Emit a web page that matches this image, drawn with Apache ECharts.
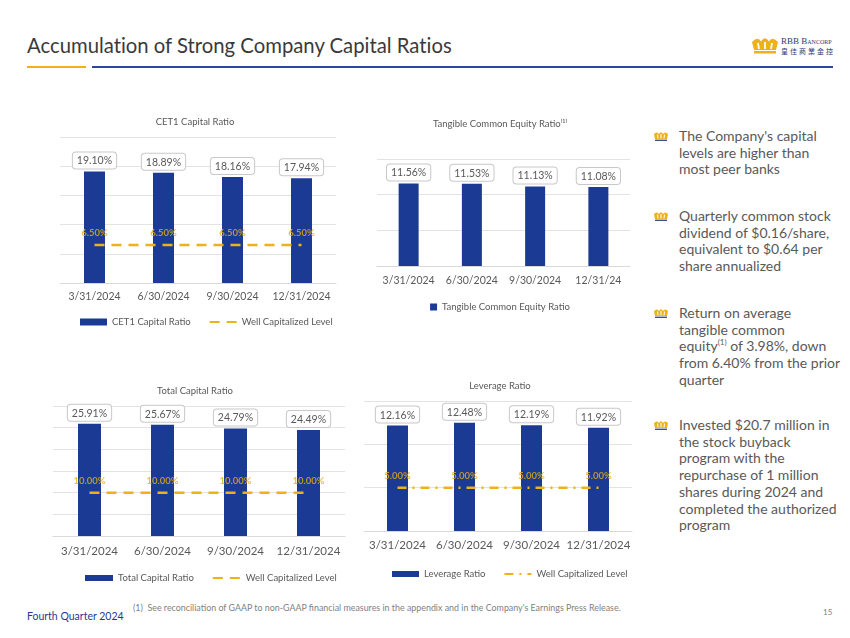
<!DOCTYPE html>
<html>
<head>
<meta charset="utf-8">
<script src="https://cdn.jsdelivr.net/npm/echarts@6/dist/echarts.min.js"></script>
<style>
  body { margin: 0; background: #fff; font-family: Lato, "Noto Sans", sans-serif; }
  #page { position: relative; width: 850px; height: 638px; overflow: hidden; background: #fff; }
  .abs { position: absolute; }
  .chart { position: absolute; }
  #title { left: 27px; top: 33px; font-size: 20.3px; color: #3a3a3a; white-space: nowrap; font-variant-ligatures: none; }
  .bullet { position: absolute; left: 679px; font-size: 14px; line-height: 16.7px; color: #595959; white-space: nowrap; }
  .crown { position: absolute; left: 653px; width: 16px; height: 10px; }
  sup { font-size: 8px; line-height: 0; vertical-align: 6px; }
</style>
</head>
<body>
<div id="page">
  <div id="title" class="abs">Accumulation of Strong Company Capital Ratios</div>
  <div class="abs" style="left:27px;top:66px;width:59px;height:2px;background:#EDB21A"></div>
  <div class="abs" style="left:92px;top:66px;width:741px;height:2px;background:#2B47A0"></div>

  <!-- logo -->
  <svg class="abs" style="left:751px;top:37px" width="28" height="17" viewBox="0 0 28 17">
    <path d="M1 5 Q7 -1 10 4.5 Q14 -2 18 4.5 Q21 -1 27 5 L25 13 L3 13 Z" fill="#EDB21A"/>
    <path d="M7 6 L8 12 M14 5 L14 12 M21 6 L20 12" stroke="#fff" stroke-width="1.8"/>
    <rect x="3" y="14" width="22" height="2.5" fill="#EDB21A"/>
  </svg>
  <div class="abs" style="left:781px;top:36px;font-size:9px;color:#2E3A78;font-variant:small-caps;font-family:'Liberation Serif',serif;white-space:nowrap">RBB Bancorp</div>
  <div class="abs" style="left:781px;top:46px;font-size:7px;color:#2E3A78;letter-spacing:2px;font-family:'Noto Sans CJK TC';white-space:nowrap">皇佳商業金控</div>

  <div id="c1" class="chart" style="left:40px;top:100px;width:310px;height:235px"></div>
  <div id="c2" class="chart" style="left:360px;top:100px;width:280px;height:215px"></div>
  <div id="c3" class="chart" style="left:40px;top:370px;width:310px;height:215px"></div>
  <div id="c4" class="chart" style="left:360px;top:370px;width:280px;height:215px"></div>

  <div class="bullet" style="top:128px">The Company's capital<br>levels are higher than<br>most peer banks</div>
  <div class="bullet" style="top:208px">Quarterly common stock<br>dividend of $0.16/share,<br>equivalent to $0.64 per<br>share annualized</div>
  <div class="bullet" style="top:305px">Return on average<br>tangible common<br>equity<sup>(1)</sup> of 3.98%, down<br>from 6.40% from the prior<br>quarter</div>
  <div class="bullet" style="top:417px">Invested $20.7 million in<br>the stock buyback<br>program with the<br>repurchase of 1 million<br>shares during 2024 and<br>completed the authorized<br>program</div>

  <div class="abs" style="left:27px;top:610px;font-size:10.5px;color:#1F3A93;white-space:nowrap">Fourth Quarter 2024</div>
  <div class="abs" style="left:133px;top:602px;font-size:8.9px;color:#7f7f7f;white-space:nowrap">(1)&nbsp; See reconciliation of GAAP to non-GAAP financial measures in the appendix and in the Company's Earnings Press Release.</div>
  <div class="abs" style="left:823px;top:607px;font-size:8px;color:#7f7f7f">15</div>
</div>

<script>
var quarters = ['3/31/2024', '6/30/2024', '9/30/2024', '12/31/2024'];
var tceQuarters = ['3/31/2024', '6/30/2024', '9/30/2024', '12/31/24'];

var cet1Ratio = [19.10, 18.89, 18.16, 17.94];
var cet1WellCap = [6.5, 6.5, 6.5, 6.5];
var tceRatio = [11.56, 11.53, 11.13, 11.08];
var totalCapitalRatio = [25.91, 25.67, 24.79, 24.49];
var totalWellCap = [10, 10, 10, 10];
var leverageRatio = [12.16, 12.48, 12.19, 11.92];
var leverageWellCap = [5, 5, 5, 5];

var BLUE = '#1B3A93';
var GOLD = '#EDB21A';
var GREY = '#595959';

// crown bullets
var crownTops = [131, 211, 308, 420];
crownTops.forEach(function (t) {
    var s = document.createElementNS('http://www.w3.org/2000/svg', 'svg');
    s.setAttribute('class', 'crown');
    s.setAttribute('viewBox', '0 0 16 10');
    s.style.top = t + 'px';
    s.innerHTML = '<path d="M1 3 Q4 0 6 3 Q8 -0.5 10 3 Q12 0 15 3 L14 8 L2 8 Z" fill="' + GOLD + '"/>' +
        '<path d="M4.5 3.5 L5 7.5 M8 3 L8 7.5 M11.5 3.5 L11 7.5" stroke="#fff" stroke-width="1"/>' +
        '<rect x="2" y="8.6" width="12" height="1.4" fill="#3a4fa0"/>';
    document.getElementById('page').appendChild(s);
});

function pct(v) {
    return v.toFixed(2) + '%';
}

function drawChart(id, cfg) {
    var chart = echarts.init(document.getElementById(id), null, { renderer: 'canvas' });
    var series = [{
        name: cfg.barName,
        type: 'bar',
        data: cfg.bars,
        barWidth: cfg.barWidth,
        itemStyle: { color: BLUE },
        label: {
            show: true,
            position: 'top',
            distance: 3,
            formatter: function (p) { return pct(p.value); },
            backgroundColor: '#fff',
            borderColor: '#c8c8c8',
            borderWidth: 1,
            borderRadius: 3,
            padding: [3, 4, 2, 4],
            fontSize: 10.5,
            color: GREY,
            fontFamily: 'Lato'
        }
    }];
    var legendData = [{ name: cfg.barName, icon: 'rect' }];
    if (cfg.line) {
        series.push({
            name: 'Well Capitalized Level',
            type: 'line',
            data: cfg.line,
            symbol: 'none',
            lineStyle: { color: GOLD, width: 2.5, type: cfg.dash },
            itemStyle: { color: GOLD },
            z: 3
        });
        // value labels sitting on the level line
        series.push({
            name: 'levelLabels',
            type: 'scatter',
            data: cfg.line,
            symbolSize: 0.1,
            itemStyle: { color: 'rgba(0,0,0,0)' },
            label: {
                show: true,
                position: 'top',
                distance: 7,
                formatter: function (p) { return pct(p.value); },
                fontSize: 9.5,
                fontWeight: 'bold',
                color: '#E6AC14',
                fontFamily: 'Lato'
            },
            silent: true,
            z: 4
        });
        // hide the marker dot the legend puts on line icons
        legendData.push({ name: 'Well Capitalized Level', itemStyle: { opacity: 0 } });
    }
    chart.setOption({
        animation: false,
        title: {
            text: cfg.title,
            left: 'center',
            top: cfg.titleTop,
            textStyle: { fontSize: 9.5, fontWeight: 'normal', color: GREY, fontFamily: 'Lato' }
        },
        legend: {
            data: legendData,
            top: cfg.legendTop,
            left: cfg.legendLeft,
            itemWidth: cfg.legendIconW,
            itemHeight: cfg.legendIconH,
            itemGap: 18,
            selectedMode: false,
            textStyle: { fontSize: 9.5, color: GREY, fontFamily: 'Lato' }
        },
        grid: cfg.grid,
        xAxis: {
            type: 'category',
            data: cfg.categories,
            axisLine: { lineStyle: { color: '#d9d9d9' } },
            axisTick: { show: false },
            axisLabel: { interval: 0, color: GREY, fontSize: cfg.catFont, margin: cfg.catMargin, fontFamily: 'Lato' }
        },
        yAxis: {
            type: 'value',
            min: 0,
            max: cfg.max,
            interval: 5,
            axisLabel: { show: false },
            axisLine: { show: false },
            axisTick: { show: false },
            splitLine: { lineStyle: { color: '#e3e3e3' } }
        },
        series: series
    });
}

drawChart('c1', {
    title: 'CET1 Capital Ratio', titleTop: 12,
    barName: 'CET1 Capital Ratio', bars: cet1Ratio, line: cet1WellCap, dash: [10, 7],
    categories: quarters, max: 25, barWidth: 21,
    grid: { left: 20, top: 37, width: 276, height: 146 },
    catFont: 10.5, catMargin: 8,
    legendTop: 212, legendLeft: 35, legendIconW: 27, legendIconH: 7
});

drawChart('c2', {
    title: 'Tangible Common Equity Ratio⁽¹⁾', titleTop: 14,
    barName: 'Tangible Common Equity Ratio', bars: tceRatio,
    categories: tceQuarters, max: 15, barWidth: 20,
    grid: { left: 17, top: 59, width: 253, height: 107 },
    catFont: 10.5, catMargin: 9,
    legendTop: 197, legendLeft: 'center', legendIconW: 7, legendIconH: 7
});

drawChart('c3', {
    title: 'Total Capital Ratio', titleTop: 11,
    barName: 'Total Capital Ratio', bars: totalCapitalRatio, line: totalWellCap, dash: [10, 7],
    categories: quarters, max: 30, barWidth: 23,
    grid: { left: 13, top: 36, width: 292, height: 130 },
    catFont: 11.5, catMargin: 9,
    legendTop: 198, legendLeft: 40, legendIconW: 28, legendIconH: 6
});

drawChart('c4', {
    title: 'Leverage Ratio', titleTop: 6,
    barName: 'Leverage Ratio', bars: leverageRatio, line: leverageWellCap, dash: [9, 6, 2, 6],
    categories: quarters, max: 15, barWidth: 21,
    grid: { left: 4, top: 31, width: 268, height: 130 },
    catFont: 11.5, catMargin: 8,
    legendTop: 194, legendLeft: 27, legendIconW: 27, legendIconH: 6
});
</script>
</body>
</html>
